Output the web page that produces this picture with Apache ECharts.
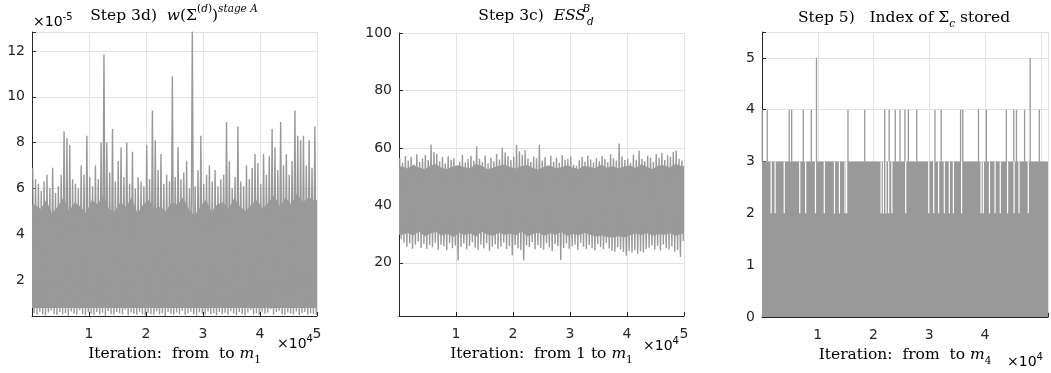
<!DOCTYPE html>
<html>
<head>
<meta charset="utf-8">
<title>Sampler diagnostics</title>
<script src="https://cdn.jsdelivr.net/npm/echarts@6/dist/echarts.min.js"></script>
<style>
  html, body { margin: 0; padding: 0; background: #fff; }
  #main { width: 1051px; height: 373px; }
</style>
</head>
<body>
<div id="main"></div>
<script>
// iterations are grouped in bins; each bin keeps the max and min of the trace
const binSize = 500;
const iterMax = 50000;

// Step 3d) w(Sigma^(d))^{stage A}, values in units of 1e-5
const wHi = [
  6.9, 6.4, 6.2, 5.9, 6.3, 6.6, 6.0, 6.9, 5.8, 6.1,
  6.6, 8.5, 8.2, 7.9, 6.4, 6.2, 6.0, 7.0, 6.6, 8.3,
  6.5, 6.1, 7.0, 6.4, 8.0, 11.85, 8.0, 6.7, 8.6, 6.3,
  7.2, 7.8, 6.5, 8.0, 6.2, 7.6, 6.0, 6.5, 6.3, 6.1,
  7.9, 6.4, 9.4, 8.1, 6.8, 7.5, 6.2, 6.6, 6.3, 10.9,
  6.5, 7.8, 6.4, 6.7, 7.2, 6.0, 12.85, 6.1, 6.8, 8.3,
  6.2, 6.6, 7.0, 6.3, 6.8, 6.1, 6.4, 6.6, 8.9, 7.2,
  6.0, 6.5, 8.7, 6.3, 6.1, 7.0, 6.4, 6.9, 7.5, 7.1,
  6.2, 7.5, 6.6, 7.4, 8.6, 7.8, 6.8, 8.9, 7.0, 7.5,
  6.6, 7.2, 9.4, 8.3, 8.1, 8.3, 7.0, 8.1, 6.9, 8.7
];
const wLo = [
  0.55, 0.48, 0.62, 0.50, 0.45, 0.58, 0.66, 0.52, 0.47, 0.60,
  0.50, 0.56, 0.44, 0.63, 0.53, 0.49, 0.68, 0.51, 0.46, 0.59,
  0.54, 0.47, 0.61, 0.50, 0.57, 0.44, 0.65, 0.52, 0.48, 0.60,
  0.55, 0.50, 0.70, 0.46, 0.58, 0.53, 0.49, 0.62, 0.51, 0.45,
  0.57, 0.52, 0.48, 0.64, 0.50, 0.55, 0.43, 0.60, 0.53, 0.49,
  0.58, 0.51, 0.66, 0.47, 0.55, 0.62, 0.50, 0.45, 0.59, 0.53,
  0.48, 0.63, 0.52, 0.56, 0.46, 0.60, 0.51, 0.57, 0.49, 0.64,
  0.54, 0.47, 0.61, 0.52, 0.45, 0.58, 0.69, 0.50, 0.55, 0.48,
  0.62, 0.53, 0.57, 0.72, 0.49, 0.60, 0.66, 0.51, 0.47, 0.58,
  0.54, 0.50, 0.63, 0.46, 0.56, 0.61, 0.49, 0.55, 0.52, 0.47
];
// dense part of the trace, every 1000 iterations
const wTop = [
  5.3, 5.1, 5.5, 4.9, 5.2, 5.6, 5.0, 5.4, 5.2, 4.9,
  5.5, 5.3, 5.7, 5.1, 5.0, 5.4, 5.2, 5.6, 4.9, 5.3,
  5.5, 5.1, 5.2, 5.0, 5.4, 5.3, 5.6, 5.1, 4.8, 5.2,
  5.5, 5.0, 5.3, 5.4, 5.1, 5.6, 5.2, 5.0, 5.3, 5.5,
  5.1, 5.4, 5.7, 5.2, 5.6, 5.3, 5.8, 5.4, 5.6, 5.5
];
const wBot = 0.78;
const wRange = [0.43, 12.83];

// Step 3c) ESS_d^B
const essHi = [
  56.5, 54.8, 57.2, 55.6, 56.9, 54.2, 57.8, 55.1, 56.3, 57.5,
  55.8, 61.2, 58.6, 57.9, 55.4, 56.8, 54.6, 57.1, 55.9, 56.4,
  53.8, 55.2, 57.6, 54.9, 56.1, 57.3, 55.5, 60.6, 56.2, 55.0,
  57.4, 54.7, 56.6, 55.3, 57.9, 56.0, 60.1, 58.4, 57.2, 55.8,
  56.9, 61.0, 58.8, 57.6, 59.2, 56.3, 55.1, 57.0, 56.4, 61.1,
  55.6, 56.8, 53.9, 57.3, 55.2, 56.6, 54.8, 57.5, 55.9, 56.2,
  57.1, 54.1, 53.8, 55.7, 56.9, 55.3, 57.4, 56.0, 54.9, 56.5,
  55.4, 57.2, 56.1, 55.0, 57.8, 56.4, 55.6, 61.5, 57.0, 55.8,
  56.3, 54.7, 57.6, 55.9, 59.0, 56.2, 55.4, 57.3, 56.7, 55.1,
  57.9, 56.5, 58.2, 55.8, 57.4, 56.9, 58.6, 59.0, 56.2, 55.6
];
const essLo = [
  28.2, 27.1, 25.6, 26.8, 24.9, 26.3, 27.4, 25.2, 26.6, 24.8,
  26.1, 25.4, 27.0, 24.6, 26.3, 25.8, 24.4, 26.9, 25.1, 26.0,
  20.8, 25.6, 26.7, 24.7, 25.9, 27.2, 25.3, 24.5, 26.4, 25.0,
  26.8, 24.2, 25.7, 26.5, 24.9, 25.6, 27.1, 24.8, 25.9, 22.6,
  26.2, 25.1, 24.4, 20.8, 26.0, 25.5, 27.3, 24.7, 26.1, 25.2,
  24.6, 26.8, 25.4, 24.1, 26.5, 25.9, 21.0, 25.2, 26.7, 24.9,
  25.8, 26.3, 24.5, 27.0, 25.6, 24.8, 26.2, 25.1, 24.3, 26.6,
  25.5, 24.7, 26.9, 25.0, 24.2, 23.9, 25.4, 24.6, 23.8, 22.5,
  24.1, 23.6, 24.4, 23.2, 24.0, 23.7, 24.8, 25.3, 26.0, 24.6,
  25.9, 24.3, 26.4, 25.1, 24.7, 25.8, 23.9, 24.5, 22.0, 27.6
];
const essTop = [
  53.5, 52.8, 54.1, 53.2, 52.6, 53.9, 54.3, 53.0, 52.7, 53.6,
  54.0, 53.3, 52.9, 54.4, 53.8, 52.6, 53.1, 53.7, 54.2, 53.4,
  52.8, 53.6, 54.1, 53.0, 52.5, 53.5, 53.9, 52.9, 53.3, 54.0,
  53.2, 52.7, 53.8, 53.4, 52.9, 54.2, 53.1, 53.6, 52.8, 53.5,
  53.9, 53.0, 54.3, 53.4, 52.7, 53.8, 54.0, 53.2, 54.4, 53.7
];
const essBot = [
  29.8, 30.4, 29.6, 30.9, 29.3, 30.2, 30.7, 29.5, 30.1, 29.0,
  30.5, 29.7, 30.3, 29.2, 30.8, 29.9, 29.4, 30.6, 29.8, 30.2,
  29.6, 30.9, 29.3, 30.0, 30.5, 29.5, 30.3, 29.8, 30.7, 29.4,
  30.1, 29.6, 30.4, 29.9, 29.2, 29.5, 29.0, 28.8, 29.3, 28.9,
  29.6, 30.2, 29.7, 30.4, 29.5, 30.0, 29.8, 30.3, 29.4, 30.1
];
const essRange = [1.5, 100];

// Step 5) index of Sigma_c stored: the trace fills 0..3, with rare jumps higher
const idxCore = [0, 3];
const idxGapTop = 2;   // columns where the trace tops out at 2
const idxHit4 = [
  50, 940, 4880, 5320, 7400, 8850, 15420, 18430, 22010, 22810,
  23900, 24750, 25640, 26250, 27760, 31020, 32140, 35620, 36010, 38830,
  40250, 43830, 45160, 45640, 47100, 49750
];
const idxHit5 = [9770, 48110];
const idxGap = [
  1640, 2350, 3990, 6770, 7830, 9590, 11180, 13000, 13890, 14890,
  15180, 21360, 21780, 22240, 22720, 23300, 25780, 29910, 30800, 31680,
  32700, 33600, 34330, 35800, 39300, 39700, 40800, 41800, 42740, 44050,
  45210, 46100, 47760
];
const idxRange = [0, 5.5];

const gray = '#999999';
const ink = '#262626';
const gridGray = '#e2e2e2';
const serif = 'DejaVu Serif';
const sans = 'DejaVu Sans';

// zig-zag through each bin's max and min so the trace looks like the dense raw chain
function envelope(hi, lo) {
  const pts = [];
  hi.forEach((h, i) => {
    pts.push([i * binSize + binSize * 0.25, h]);
    pts.push([i * binSize + binSize * 0.75, lo[i]]);
  });
  return pts;
}

// filled polygon for the dense core of the trace
function coreSeries(idx, top, bot) {
  const lower = Array.isArray(bot) ? bot : top.map(() => bot);
  const step = iterMax / top.length;
  return {
    type: 'custom', xAxisIndex: idx, yAxisIndex: idx, z: 1,
    data: [[0, top[0]]],
    renderItem: (params, api) => {
      const up = [api.coord([0, top[0]])];
      top.forEach((v, i) => up.push(api.coord([(i + 0.5) * step, v])));
      up.push(api.coord([iterMax, top[top.length - 1]]));
      const down = [api.coord([iterMax, lower[lower.length - 1]])];
      for (let i = lower.length - 1; i >= 0; i--) down.push(api.coord([(i + 0.5) * step, lower[i]]));
      down.push(api.coord([0, lower[0]]));
      return { type: 'polygon', shape: { points: up.concat(down) }, style: { fill: gray } };
    }
  };
}

const math = {
  r: { fontFamily: serif, fontSize: 15.5, color: '#000', lineHeight: 24 },
  i: { fontFamily: serif, fontSize: 15.5, fontStyle: 'italic', color: '#000', lineHeight: 24 },
  sup: { fontFamily: serif, fontSize: 10.5, color: '#000', verticalAlign: 'top', lineHeight: 11 },
  supi: { fontFamily: serif, fontSize: 10.5, fontStyle: 'italic', color: '#000', verticalAlign: 'top', lineHeight: 11 },
  supz: { fontFamily: serif, fontSize: 10.5, fontStyle: 'italic', color: '#000', verticalAlign: 'top', lineHeight: 11, width: 1 },
  sub: { fontFamily: serif, fontSize: 10.5, color: '#000', verticalAlign: 'bottom', lineHeight: 11 },
  subi: { fontFamily: serif, fontSize: 10.5, fontStyle: 'italic', color: '#000', verticalAlign: 'bottom', lineHeight: 11 }
};
const power = {
  a: { fontFamily: sans, fontSize: 14, color: ink, lineHeight: 20 },
  b: { fontFamily: sans, fontSize: 10, color: ink, verticalAlign: 'top', lineHeight: 10 }
};

function xAxis(gridIndex, max, name, hideFive) {
  return {
    gridIndex, type: 'value', min: 0, max, interval: 10000,
    name, nameLocation: 'middle', nameGap: 25,
    nameTextStyle: { rich: math },
    axisLine: { onZero: false, lineStyle: { color: ink, width: 1 } },
    axisTick: { inside: true, length: 4, lineStyle: { color: ink } },
    axisLabel: {
      fontFamily: sans, fontSize: 14, color: ink, margin: 11,
      formatter: v => (v > 0 && v % 10000 === 0 && !(hideFive && v >= 50000)) ? String(v / 10000) : ''
    },
    splitLine: { show: true, lineStyle: { color: gridGray } }
  };
}

function yAxis(gridIndex, range, interval) {
  return {
    gridIndex, type: 'value', min: range[0], max: range[1], interval,
    axisLine: { show: true, lineStyle: { color: ink, width: 1 } },
    axisTick: { show: true, inside: true, length: 4, lineStyle: { color: ink } },
    axisLabel: {
      fontFamily: sans, fontSize: 14, color: ink, margin: 7,
      formatter: v => Number.isInteger(v) ? String(v) : ''
    },
    splitLine: { show: true, lineStyle: { color: gridGray } }
  };
}

const idxMax = 51300;   // right panel runs past the edge of the figure

const option = {
  animation: false,
  grid: [
    { left: 32, top: 32, width: 285, height: 284 },
    { left: 399, top: 33, width: 285, height: 283 },
    { left: 762, top: 32, width: 290, height: 285 }
  ],
  xAxis: [
    xAxis(0, iterMax, '{r|Iteration:  from  to }{i|m}{sub|1}', false),
    xAxis(1, iterMax, '{r|Iteration:  from 1 to }{i|m}{sub|1}', false),
    xAxis(2, idxMax, '{r|Iteration:  from  to }{i|m}{sub|4}', true)
  ],
  yAxis: [
    yAxis(0, wRange, undefined),
    yAxis(1, essRange, undefined),
    yAxis(2, idxRange, 1)
  ],
  graphic: [
    { type: 'text', x: 174, y: 16, style: { text: '{r|Step 3d)  }{i|w}{r|(Σ}{sup|(}{supi|d}{sup|)}{r|)}{supi|stage A}', rich: math, align: 'center', verticalAlign: 'middle' } },
    { type: 'text', x: 536, y: 16, style: { text: '{r|Step 3c)  }{i|ESS}{supz|B}{subi|d}', rich: math, align: 'center', verticalAlign: 'middle' } },
    { type: 'text', x: 904, y: 18, style: { text: '{r|Step 5)   Index of Σ}{subi|c}{r| stored}', rich: math, align: 'center', verticalAlign: 'middle' } },
    { type: 'text', x: 33, y: 22, style: { text: '{a|×10}{b|-5}', rich: power, align: 'left', verticalAlign: 'middle' } },
    { type: 'text', x: 277, y: 344, style: { text: '{a|×10}{b|4}', rich: power, align: 'left', verticalAlign: 'middle' } },
    { type: 'text', x: 643, y: 346, style: { text: '{a|×10}{b|4}', rich: power, align: 'left', verticalAlign: 'middle' } },
    { type: 'text', x: 1007, y: 362, style: { text: '{a|×10}{b|4}', rich: power, align: 'left', verticalAlign: 'middle' } }
  ],
  series: [
    coreSeries(0, wTop, wBot),
    {
      type: 'line', xAxisIndex: 0, yAxisIndex: 0, z: 2,
      data: envelope(wHi, wLo),
      showSymbol: false, lineStyle: { color: gray, width: 1.4 }
    },
    coreSeries(1, essTop, essBot),
    {
      type: 'line', xAxisIndex: 1, yAxisIndex: 1, z: 2,
      data: envelope(essHi, essLo),
      showSymbol: false, lineStyle: { color: gray, width: 1.4 }
    },
    {
      type: 'custom', xAxisIndex: 2, yAxisIndex: 2,
      data: idxHit4.map(x => [x, 4]).concat(idxHit5.map(x => [x, 5])),
      renderItem: (params, api) => {
        const top = api.coord([api.value(0), api.value(1)]);
        const base = api.coord([api.value(0), idxCore[1]]);
        return {
          type: 'line',
          shape: { x1: top[0], y1: base[1], x2: top[0], y2: top[1] },
          style: { stroke: gray, lineWidth: 1.3 }
        };
      },
      markArea: {
        silent: true,
        itemStyle: { color: gray, opacity: 1 },
        data: [[{ coord: [0, idxCore[0]] }, { coord: [idxMax, idxCore[1]] }]]
      }
    },
    {
      type: 'custom', xAxisIndex: 2, yAxisIndex: 2, z: 3,
      data: idxGap.map(x => [x, idxGapTop]),
      renderItem: (params, api) => {
        const a = api.coord([api.value(0), idxCore[1]]);
        const b = api.coord([api.value(0), api.value(1)]);
        return {
          type: 'rect',
          shape: { x: a[0] - 0.6, y: a[1], width: 1.2, height: b[1] - a[1] },
          style: { fill: '#fff' }
        };
      }
    }
  ]
};

const chart = echarts.init(document.getElementById('main'));
chart.setOption(option);
</script>
</body>
</html>
